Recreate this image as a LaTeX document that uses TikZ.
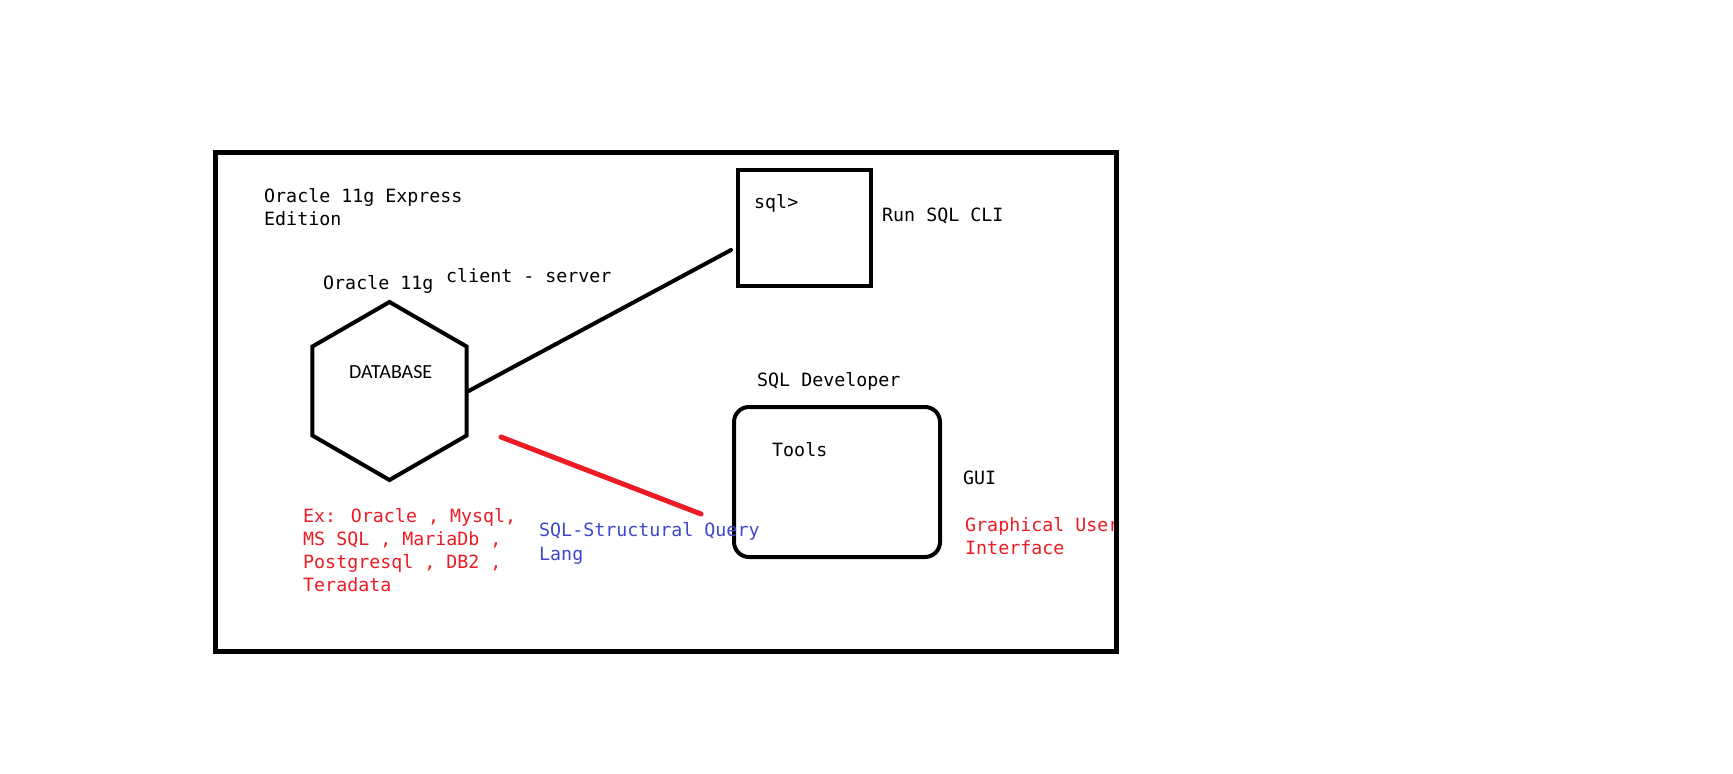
\documentclass[tikz,border=0pt]{standalone}
\usepackage{fontspec}
\usepackage{tikz}
\usetikzlibrary{positioning, shapes.geometric}
\newfontfamily\monoFont{DejaVu Sans Mono}
\newfontfamily\sansFont{Carlito}
\definecolor{paintRed}{RGB}{237,28,36}
\definecolor{paintBlue}{RGB}{63,72,204}
\tikzstyle{boundary} = [
    rectangle,
    draw,
    line width = 4.5pt,
    minimum width = 901pt,
    minimum height = 499pt
]
\tikzstyle{cli} = [
    rectangle,
    draw,
    line width = 4pt,
    minimum width = 133pt,
    minimum height = 116pt
]
\tikzstyle{gui} = [
    rectangle,
    draw,
    line width = 4pt,
    rounded corners = 15pt,
    minimum width = 206pt,
    minimum height = 150pt
]
\tikzstyle{database} = [
    regular polygon,
    regular polygon sides = 6,
    shape border rotate = 30,
    draw,
    line width = 4pt,
    minimum size = 178pt,
    inner sep = 0pt
]
\tikzstyle{note} = [
    inner sep = 0pt,
    anchor = base west,
    align = left,
    font = \monoFont\fontsize{18.3}{23}\selectfont
]
\tikzstyle{link} = [
    line width = 4pt,
    line cap = round
]

\begin{document}
\begin{tikzpicture}[x = 1pt, y = -1pt]

    \useasboundingbox (0, 0) rectangle (1733, 774);

    % shapes
    \node [database] (db) at (389.5, 391) {};
    \node [cli] (sqlBox) at (804.5, 228) {};
    \node [gui] (toolsBox) at (837, 482) {};

    % connectors
    \coordinate (cliEnd) at (731, 250);
    \coordinate (queryStart) at (501, 437);
    \coordinate (queryEnd) at (701, 514);
    \draw [link] (db.east) -- (cliEnd);
    \draw [link, paintRed, line width = 5pt] (queryStart) -- (queryEnd);

    % database side (multi-line notes sit on their last line)
    \node [note] (edition) at (264, 225) {Oracle 11g Express\\Edition};
    \node [note] (dbName) at (323, 289) {Oracle 11g};
    \node [note] (clientServer) at (446, 282) {client - server};
    \node [inner sep = 0pt, anchor = base west, font = \sansFont\fontsize{20}{24}\selectfont] (dbText) at (349, 378) {DATABASE};
    \node [note, text = paintRed] (dbExamples) at (303, 591) {Ex: Oracle , Mysql,\\MS SQL , MariaDb ,\\Postgresql , DB2 ,\\Teradata};
    \node [note, text = paintBlue, font = \monoFont\fontsize{18.3}{23.3}\selectfont] (sqlFull) at (539, 560) {SQL-Structural Query\\Lang};

    % CLI
    \node [note] (sqlPrompt) at (754, 208) {sql>};
    \node [note] (runCli) at (882, 221) {Run SQL CLI};

    % GUI
    \node [note] (sqlDev) at (757, 386) {SQL Developer};
    \node [note] (tools) at (772, 456) {Tools};
    \node [note] (guiText) at (963, 484) {GUI};
    \node [note, text = paintRed, font = \monoFont\fontsize{18.3}{22.6}\selectfont] (guiFull) at (965, 554) {Graphical User\\Interface};

    % outer frame
    \node [boundary] (xeFrame) at (666, 402) {};

\end{tikzpicture}
\end{document}
